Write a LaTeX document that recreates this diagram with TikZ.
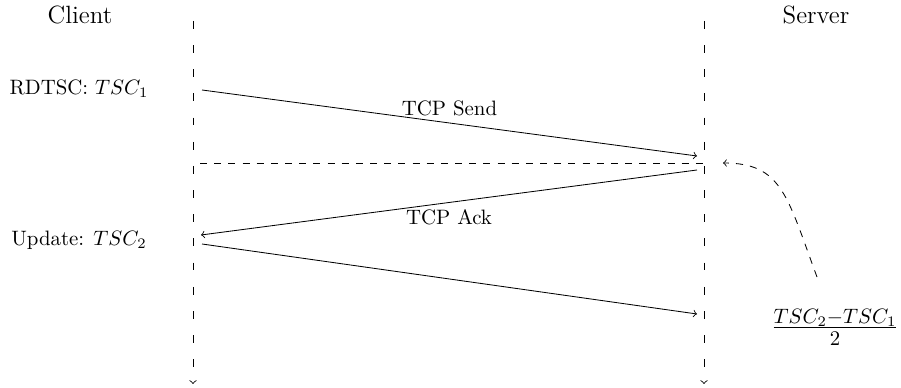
\documentclass[tikz,border=0pt]{standalone}
\begin{document}
\begin{tikzpicture}[x=0.48pt, y=-0.48pt,
  lifeline/.style={->, dash pattern=on 3.7pt off 7.9pt},
  msg/.style={->},
  marker/.style={dash pattern=on 3.4pt off 3.4pt},
  title/.style={font=\large, inner sep=0pt},
  lbl/.style={inner sep=0pt}]
\useasboundingbox (0,0) rectangle (901,388);

% party names
\node[title] (client) at (80,15) {Client};
\node[title] (server) at (816,15) {Server};

% lifelines
\coordinate (ctop) at (193,21);
\coordinate (cbot) at (193,384);
\coordinate (stop) at (704,21);
\coordinate (sbot) at (704,384);
\draw[lifeline] (ctop) -- (cbot);
\draw[lifeline] (stop) -- (sbot);

% client-side events
\node[lbl] (rdtsc) at (79,89) {RDTSC: $TSC_1$};
\node[lbl] (update) at (79,240) {Update: $TSC_2$};

% message end points
\coordinate (s1) at (202,90);
\coordinate (r1) at (697,156);
\coordinate (s2) at (697,170);
\coordinate (r2) at (201,235);
\coordinate (s3) at (202,244);
\coordinate (r3) at (697,314);
\coordinate (ml) at (200,163);
\coordinate (mr) at (704,163);

% messages
\draw[msg] (s1) -- node[lbl, pos=0.5, above=3.1pt] (send) {TCP Send} (r1);
\draw[marker] (ml) -- (mr);
\draw[msg] (s2) -- node[lbl, pos=0.5, below=3pt] (ack) {TCP Ack} (r2);
\draw[msg] (s3) -- (r3);

% estimate of the server time
\node[lbl, font=\Large] (est) at (835,327) {$\frac{TSC_2-TSC_1}{2}$};
\coordinate (cs) at (817,277);
\coordinate (ce) at (723,163);
\draw[->, marker] (cs) .. controls (787,196) and (782,163) .. (ce);
\end{tikzpicture}
\end{document}
